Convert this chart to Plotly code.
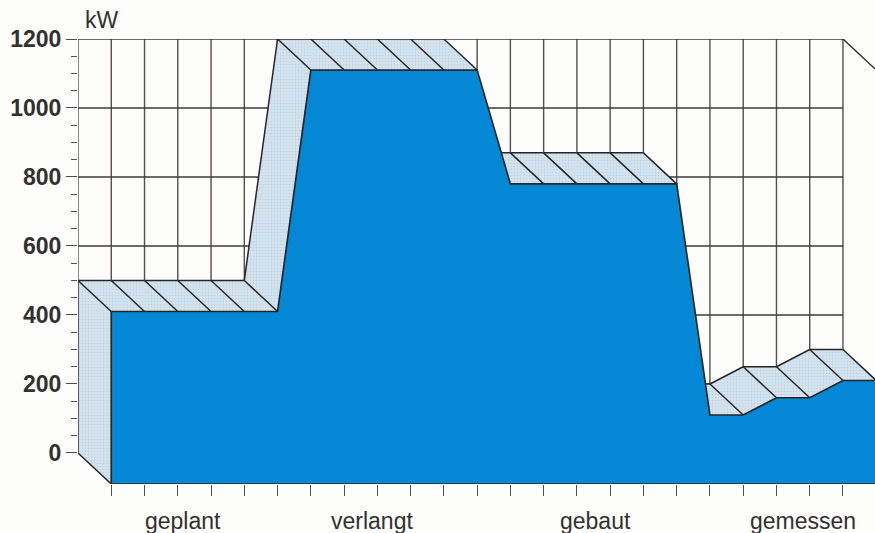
import plotly.graph_objects as go

# Back-edge values (kW), one per cell of the grid
planned = [500, 500, 500, 500, 500, 500]
requested = [1200, 1200, 1200, 1200, 1200, 1200]
built = [870, 870, 870, 870, 870, 870]
measured = [200, 200, 250, 250, 300, 300]
categories = ["geplant", "verlangt", "gebaut", "gemessen"]
category_pos = [3.16, 8.84, 15.55, 21.8]
y_major = [0, 200, 400, 600, 800, 1000, 1200]
y_minor = [50, 100, 150, 250, 300, 350, 450, 500, 550, 650, 700, 750, 850, 900, 950, 1050, 1100, 1150]
unit = "kW"

values = planned + requested + built + measured
n = len(values)
DX, DY = 1, 90  # pseudo-3D depth in axis units

INK = "#262626"
GRID_H = "#3f3838"
GRID_V = "#544e4e"
BLUE = "#0488d6"
TEXT = "#333030"

fig = go.Figure()


def lines(xs, ys, color, width, **kw):
    fig.add_trace(go.Scatter(x=xs, y=ys, mode="lines", cliponaxis=False, hoverinfo="skip",
                             line=dict(color=color, width=width), showlegend=False, **kw))


# Back grid
gx, gy = [], []
for i in range(n):
    gx += [i, i, None]
    gy += [0, y_major[-1], None]
lines(gx, gy, GRID_V, 1.4)
hx, hy = [], []
for v in y_major:
    hx += [0, n - 1, None]
    hy += [v, v, None]
lines(hx, hy, GRID_H, 1.4)
lines([n - 1, n - 1 + DX], [y_major[-1], y_major[-1] - DY], INK, 1.4)

# Light surfaces (skipping faces that point away from the viewer)
sx, sy = [0, 0, DX, DX, 0, None], [0, values[0], values[0] - DY, -DY, 0, None]
ex, ey = [0, DX, None], [0, -DY, None]
for i in range(n):
    ex += [i, i + DX, None]
    ey += [values[i], values[i] - DY, None]
    j = i + 1
    if j < n and values[j] >= values[i]:
        sx += [i, j, j + DX, i + DX, i, None]
        sy += [values[i], values[j], values[j] - DY, values[i] - DY, values[i], None]
        ex += [i, j, None]
        ey += [values[i], values[j], None]
fig.add_trace(go.Scatter(x=sx, y=sy, mode="none", fill="toself", cliponaxis=False, hoverinfo="skip",
                         fillcolor="#cfe0ee", showlegend=False,
                         fillpattern=dict(shape=".", size=3, solidity=0.35,
                                          bgcolor="#d6e4ef", fgcolor="#abc5da")))
lines(ex, ey, INK, 1.5)
lines([0, 0], [0, values[0]], INK, 1.4)

# Front face
fx = [DX] + [i + DX for i in range(n)] + [n - 1 + DX, DX]
fy = [-DY] + [v - DY for v in values] + [-DY, -DY]
fig.add_trace(go.Scatter(x=fx, y=fy, mode="lines", fill="toself", fillcolor=BLUE, cliponaxis=False,
                         hoverinfo="skip", line=dict(color=INK, width=1.7), showlegend=False))

for name, pos in zip(categories, category_pos):
    fig.add_annotation(x=pos, xref="x", y=0, yref="paper", yshift=-37, text=name, showarrow=False,
                       yanchor="middle", font=dict(family="Liberation Sans", size=23, color=TEXT))
fig.add_annotation(x=0, xref="x", y=y_major[-1], yref="y", text=unit, showarrow=False,
                   xanchor="left", yanchor="bottom", xshift=5, yshift=4,
                   font=dict(family="Liberation Sans", size=23, color=TEXT))

CELL = 33.26
fig.update_layout(
    width=875, height=533,
    margin=dict(l=78, r=0, t=39, b=49, autoexpand=False),
    paper_bgcolor="#fdfdfb", plot_bgcolor="#fdfdfb",
    xaxis=dict(range=[0, 797 / CELL], showgrid=False, zeroline=False, showline=False,
               tickmode="array", tickvals=list(range(1, n)), ticktext=[""] * (n - 1),
               ticks="outside", ticklen=11, tickwidth=1.4, tickcolor=GRID_V),
    yaxis=dict(range=[-DY, y_major[-1]], showgrid=False, zeroline=False, showline=False,
               tickmode="array", tickvals=y_major, ticks="outside", ticklen=11, tickwidth=1.4,
               tickcolor=GRID_V,
               tickfont=dict(family="Liberation Sans", size=23, color=TEXT, weight="bold"),
               ticklabelstandoff=0,
               minor=dict(tickmode="array", tickvals=y_minor,
                          ticks="outside", ticklen=6, tickwidth=1, tickcolor=GRID_V)),
)
fig.write_html("out.html", config=dict(displayModeBar=False),
               post_script="document.documentElement.style.background='#fdfdfb';"
                           "document.body.style.margin='0';document.body.style.overflow='hidden';")
